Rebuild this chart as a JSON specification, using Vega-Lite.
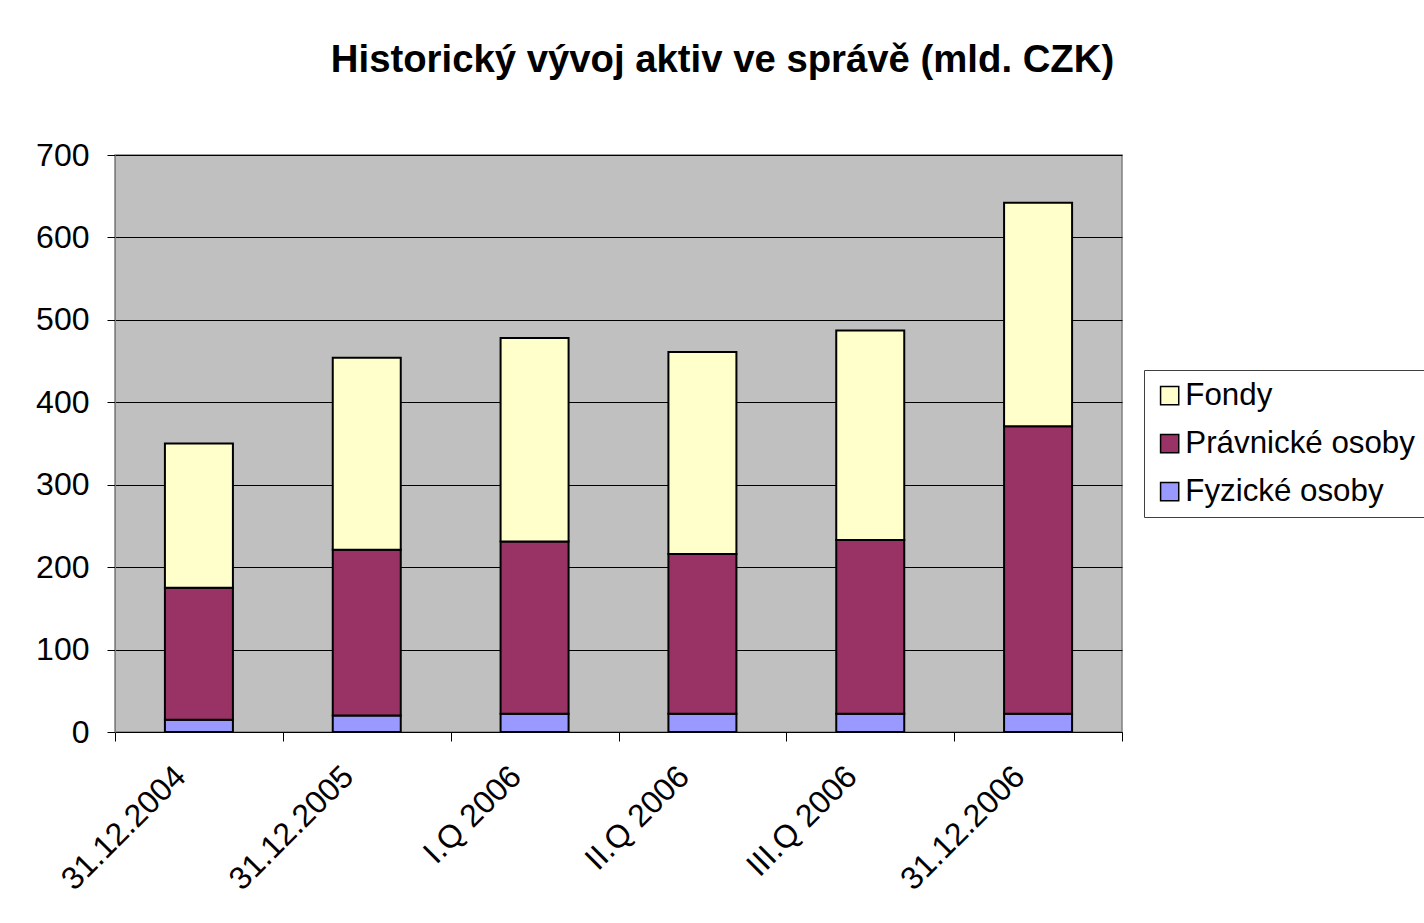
{
  "$schema": "https://vega.github.io/schema/vega-lite/v6.json",
  "autosize": {"type": "none"},
  "width": 1007,
  "height": 577,
  "padding": {"left": 115, "top": 155, "right": 302, "bottom": 191},
  "background": "white",
  "title": {
    "text": "Historický vývoj aktiv ve správě (mld. CZK)",
    "font": "Liberation Sans",
    "fontSize": 38.3,
    "fontWeight": "bold",
    "color": "black",
    "anchor": "middle",
    "frame": "group",
    "dx": 104,
    "baseline": "alphabetic",
    "offset": 29
  },
  "data": {
    "values": [
      {"obdobi": "31.12.2004", "kategorie": "Fyzické osoby", "poradi": 1, "hodnota": 15},
      {"obdobi": "31.12.2004", "kategorie": "Právnické osoby", "poradi": 2, "hodnota": 160},
      {"obdobi": "31.12.2004", "kategorie": "Fondy", "poradi": 3, "hodnota": 175},
      {"obdobi": "31.12.2005", "kategorie": "Fyzické osoby", "poradi": 1, "hodnota": 20},
      {"obdobi": "31.12.2005", "kategorie": "Právnické osoby", "poradi": 2, "hodnota": 201},
      {"obdobi": "31.12.2005", "kategorie": "Fondy", "poradi": 3, "hodnota": 233},
      {"obdobi": "I.Q 2006", "kategorie": "Fyzické osoby", "poradi": 1, "hodnota": 22},
      {"obdobi": "I.Q 2006", "kategorie": "Právnické osoby", "poradi": 2, "hodnota": 209},
      {"obdobi": "I.Q 2006", "kategorie": "Fondy", "poradi": 3, "hodnota": 247},
      {"obdobi": "II.Q 2006", "kategorie": "Fyzické osoby", "poradi": 1, "hodnota": 22},
      {"obdobi": "II.Q 2006", "kategorie": "Právnické osoby", "poradi": 2, "hodnota": 194},
      {"obdobi": "II.Q 2006", "kategorie": "Fondy", "poradi": 3, "hodnota": 245},
      {"obdobi": "III.Q 2006", "kategorie": "Fyzické osoby", "poradi": 1, "hodnota": 22},
      {"obdobi": "III.Q 2006", "kategorie": "Právnické osoby", "poradi": 2, "hodnota": 211},
      {"obdobi": "III.Q 2006", "kategorie": "Fondy", "poradi": 3, "hodnota": 254},
      {"obdobi": "31.12.2006", "kategorie": "Fyzické osoby", "poradi": 1, "hodnota": 22},
      {"obdobi": "31.12.2006", "kategorie": "Právnické osoby", "poradi": 2, "hodnota": 349},
      {"obdobi": "31.12.2006", "kategorie": "Fondy", "poradi": 3, "hodnota": 271}
    ]
  },
  "mark": {"type": "bar", "width": 68, "stroke": "black", "strokeWidth": 2},
  "encoding": {
    "x": {
      "field": "obdobi",
      "type": "nominal",
      "sort": null,
      "scale": {"paddingInner": 0, "paddingOuter": 0},
      "axis": {
        "title": null,
        "labelAngle": -45,
        "labelAlign": "right",
        "labelBaseline": "middle",
        "labelFont": "Liberation Sans",
        "labelFontSize": 32,
        "labelColor": "black",
        "labelPadding": 30,
        "labelOffset": -19,
        "tickBand": "extent",
        "tickSize": 9,
        "tickColor": "black",
        "domainColor": "black",
        "grid": false
      }
    },
    "y": {
      "field": "hodnota",
      "type": "quantitative",
      "aggregate": "sum",
      "stack": "zero",
      "scale": {"domain": [0, 700], "nice": false},
      "axis": {
        "title": null,
        "values": [0, 100, 200, 300, 400, 500, 600, 700],
        "labelFont": "Liberation Sans",
        "labelFontSize": 32,
        "labelColor": "black",
        "labelPadding": 18,
        "tickSize": 8,
        "tickColor": "black",
        "domainColor": "#808080",
        "grid": true,
        "gridColor": "black",
        "gridWidth": 1
      }
    },
    "color": {
      "field": "kategorie",
      "type": "nominal",
      "scale": {
        "domain": ["Fondy", "Právnické osoby", "Fyzické osoby"],
        "range": ["#FFFFCC", "#993366", "#9999FF"]
      },
      "legend": {
        "title": null,
        "orient": "none",
        "legendX": 1029,
        "legendY": 215,
        "padding": 10,
        "strokeColor": "#404040",
        "fillColor": "white",
        "symbolType": "square",
        "symbolSize": 330,
        "symbolStrokeColor": "black",
        "symbolStrokeWidth": 1.5,
        "labelFont": "Liberation Sans",
        "labelFontSize": 31.3,
        "labelColor": "black",
        "labelOffset": 0,
        "rowPadding": 16,
        "labelLimit": 400,
        "offset": 0
      }
    },
    "order": {"field": "poradi", "type": "quantitative"}
  },
  "config": {
    "view": {"fill": "#C0C0C0", "stroke": "#808080", "strokeWidth": 1.5}
  }
}
